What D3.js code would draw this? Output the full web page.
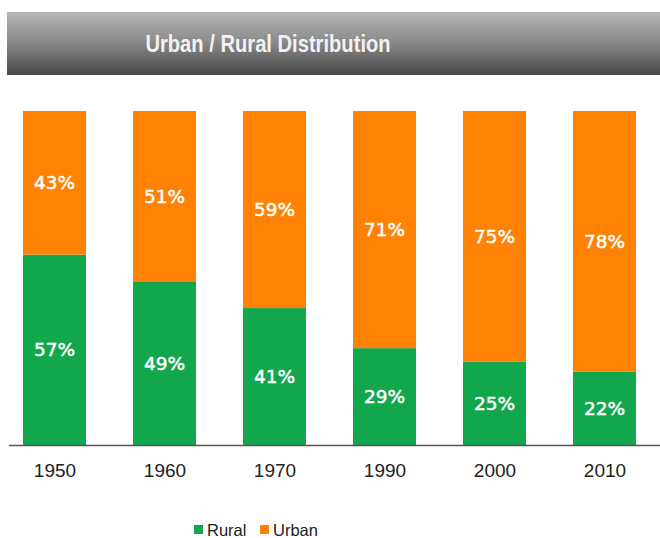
<!DOCTYPE html>
<html><head><meta charset="utf-8">
<script src="https://cdn.jsdelivr.net/npm/d3@7"></script>
<style>body{margin:0;background:#fff}svg{display:block}</style>
</head><body>
<script>
const years = ["1950","1960","1970","1990","2000","2010"];
const rural = [57,49,41,29,25,22];
const urban = [43,51,59,71,75,78];
const seriesNames = ["Rural","Urban"];
const colors = ["#12a64d","#ff8205"];

const W=660,H=538;
const svg=d3.select("body").append("svg").attr("width",W).attr("height",H);
const defs=svg.append("defs");
const g=defs.append("linearGradient").attr("id","tg").attr("x1",0).attr("y1",0).attr("x2",0).attr("y2",1);
g.append("stop").attr("offset","0%").attr("stop-color","#b6b6b6");
g.append("stop").attr("offset","45%").attr("stop-color","#8c8c8c");
g.append("stop").attr("offset","100%").attr("stop-color","#484848");
svg.append("rect").attr("x",7).attr("y",12).attr("width",W-7).attr("height",63).attr("fill","url(#tg)");
svg.append("text").attr("transform","translate(268,52) scale(0.84,1)").attr("text-anchor","middle")
  .attr("font-family","'Liberation Sans',Arial,sans-serif")
  .attr("font-weight","bold").attr("font-size",24).attr("fill","#f2f2f2")
  .text("Urban / Rural Distribution");

const step=110, bw=63, x0=23;
const xs=d3.scalePoint().domain(years).range([x0+bw/2, x0+bw/2+step*(years.length-1)]);
const y=d3.scaleLinear().domain([0,100]).range([445,111]);

const data=years.map((yr,i)=>({year:yr,Rural:rural[i],Urban:urban[i]}));
const stack=d3.stack().keys(seriesNames)(data);
stack.forEach((s,si)=>{
  svg.append("g").selectAll("rect").data(s).join("rect")
    .attr("x",d=>xs(d.data.year)-bw/2).attr("width",bw)
    .attr("y",d=>y(d[1])).attr("height",d=>y(d[0])-y(d[1]))
    .attr("fill",colors[si]);
  svg.append("g").selectAll("text").data(s).join("text")
    .attr("x",d=>xs(d.data.year)).attr("y",d=>(y(d[0])+y(d[1]))/2)
    .attr("dy","0.36em").attr("text-anchor","middle")
    .attr("font-family","'DejaVu Sans',Verdana,sans-serif").attr("font-size",18.5)
    .attr("fill","#fff").attr("stroke","#fff").attr("stroke-width",0.5)
    .text(d=>(d[1]-d[0])+"%");
});

const ax=svg.append("g").attr("transform","translate(0,445)")
  .call(d3.axisBottom(xs).tickSize(0).tickPadding(19));
ax.select(".domain").attr("d","M9,0.5H660").attr("stroke","#555").attr("stroke-width",1.5);
ax.selectAll("text").attr("font-family","'Liberation Sans',Arial,sans-serif").attr("font-size",19).attr("fill","#222");

const lg=svg.append("g");
const items=[{n:"Rural",c:colors[0],x:194},{n:"Urban",c:colors[1],x:260}];
items.forEach(it=>{
  lg.append("rect").attr("x",it.x).attr("y",525).attr("width",9).attr("height",9).attr("fill",it.c);
  lg.append("text").attr("x",it.x+13).attr("y",535.5).attr("font-family","'Liberation Sans',Arial,sans-serif")
    .attr("font-size",16.5).attr("fill","#222").text(it.n);
});
</script>
</body></html>
